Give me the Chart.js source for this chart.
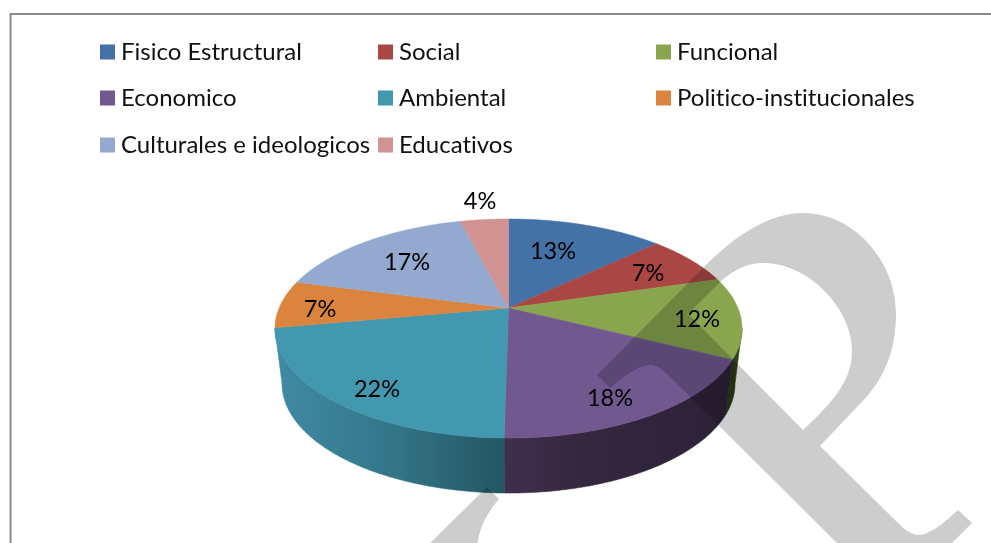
<!DOCTYPE html>
<html><head><meta charset="utf-8">
<script src="https://cdn.jsdelivr.net/npm/chart.js@4"></script>
<style>
html,body{margin:0;padding:0;background:#fff;overflow:hidden}
#wrap{position:relative;width:991px;height:543px}
#c{position:absolute;left:0;top:0;width:991px;height:543px}
</style></head><body>
<div id="wrap"><canvas id="c" width="991" height="543"></canvas></div>
<script>
const categories=["Fisico Estructural","Social","Funcional","Economico","Ambiental","Politico-institucionales","Culturales e ideologicos","Educativos"];
const values=[13,7.4,12,17.85,21.85,7,16.9,4];
const colors=["#4472A6","#AA4643","#89A54E","#71588F","#4198AF","#DB843D","#93A9CF","#D19392"];
const labelSpots=[[553,251],[648,273],[697,319],[610,398],[377,389],[320,309],[407,262],[480,201]];
const FONT='Lato, sans-serif';

// perspective projection of the pie's unit circle
const P={cx:508.5,cy:308,b:229.4,a:105.7,k:0.1872,depth:55,shrink:0.97};
function proj(u,v){const d=1-P.k*v;return [P.cx+P.b*u/d,P.cy+P.a*v/d];}
function ang(a){return [Math.cos(a),Math.sin(a)];}
function polyArc(ctx,a0,a1,bottom,rev){
  const n=Math.max(4,Math.ceil(Math.abs(a1-a0)/0.01));
  for(let i=0;i<=n;i++){
    const t=rev?1-i/n:i/n,[u,v]=ang(a0+(a1-a0)*t);
    let [x,y]=proj(u,v);
    if(bottom){x=P.cx+(x-P.cx)*P.shrink;y+=P.depth;}
    ctx.lineTo(x,y);
  }
}
function wallFill(ctx,i,x0,x1){
  const h=ctx.createLinearGradient(Math.min(x0,x1),0,Math.max(x0,x1),0);
  if(i===2){h.addColorStop(0,'#2a3a14');h.addColorStop(1,'#3a4f1e');}
  else if(i===3){h.addColorStop(0,'#3f2f4c');h.addColorStop(0.35,'#34273f');h.addColorStop(1,'#2c2238');}
  else if(i===4){h.addColorStop(0,'#408ba3');h.addColorStop(0.5,'#347689');h.addColorStop(1,'#245763');}
  else {h.addColorStop(0,colors[i]);h.addColorStop(1,colors[i]);}
  return h;
}
const pie3d={
  id:'pie3d',
  beforeDatasetsDraw(chart){
    const ctx=chart.ctx,arcs=chart.getDatasetMeta(0).data;
    ctx.save();
    const lim=Math.asin(P.k);
    const lo=lim, hi=Math.PI-lim;
    arcs.forEach((arc,i)=>{
      const a0=Math.max(arc.startAngle,lo),a1=Math.min(arc.endAngle,hi);
      if(a1<=a0) return;
      const [x0]=proj(...ang(a0)),[x1]=proj(...ang(a1));
      const f=wallFill(ctx,i,x0,x1);
      ctx.fillStyle=f;ctx.strokeStyle=f;ctx.lineWidth=0.6;
      ctx.beginPath();
      polyArc(ctx,a0,a1,false,false);
      polyArc(ctx,a0,a1,true,true);
      ctx.closePath();ctx.fill();ctx.stroke();
    });
    arcs.forEach((arc,i)=>{
      ctx.fillStyle=arc.options.backgroundColor;
      ctx.strokeStyle=arc.options.backgroundColor;
      ctx.lineWidth=0.5;
      ctx.beginPath();
      ctx.moveTo(P.cx,P.cy);
      polyArc(ctx,arc.startAngle,arc.endAngle,false,false);
      ctx.closePath();ctx.fill();ctx.stroke();
    });
    ctx.restore();
    return false;
  },
  afterDraw(chart){
    const ctx=chart.ctx;
    ctx.save();
    ctx.textRendering='optimizeSpeed';
    ctx.font='23.5px '+FONT;ctx.fillStyle='#000';ctx.textAlign='center';ctx.textBaseline='middle';
    values.forEach((v,i)=>ctx.fillText(Math.round(v)+'%',labelSpots[i][0],labelSpots[i][1]));
    ctx.restore();
    ctx.save();
    ctx.textRendering='optimizeSpeed';
    ctx.font='24px '+FONT;ctx.textBaseline='middle';
    const cols=[100,378,656],rows=[52,98,145];
    categories.forEach((c,i)=>{
      const cx=cols[i%3],cy=rows[Math.floor(i/3)];
      ctx.fillStyle=colors[i];ctx.fillRect(cx,cy-7.5,15,15);
      ctx.fillStyle='#111';ctx.fillText(c,cx+21,cy+0.5);
    });
    ctx.restore();
    ctx.save();ctx.strokeStyle='#8c8c8c';ctx.lineWidth=2;
    ctx.beginPath();ctx.moveTo(991,14);ctx.lineTo(10.5,14);ctx.lineTo(10.5,543);ctx.stroke();ctx.restore();
    ctx.save();
    ctx.globalCompositeOperation='multiply';ctx.fillStyle='#cdcdcd';
    ctx.beginPath();
    ctx.moveTo(597,375);ctx.lineTo(703,268);
    ctx.bezierCurveTo(735,235,770,213,803,213);
    ctx.bezierCurveTo(855,213,896,262,896,313);
    ctx.bezierCurveTo(896,350,885,380,857,407);
    ctx.lineTo(820,446);ctx.lineTo(897,522);
    ctx.bezierCurveTo(905,530,912,535,918,535);
    ctx.bezierCurveTo(930,535,945,522,958,510);
    ctx.lineTo(972,523);ctx.lineTo(945,550);ctx.lineTo(844,550);
    ctx.lineTo(670,377);
    ctx.bezierCurveTo(660,367,655,365,650,365);
    ctx.bezierCurveTo(640,365,625,375,610,388);
    ctx.closePath();
    ctx.moveTo(720,282);
    ctx.bezierCurveTo(735,268,750,263,763,263);
    ctx.bezierCurveTo(810,263,852,310,852,350);
    ctx.bezierCurveTo(852,380,835,400,803,430);
    ctx.lineTo(688,314);
    ctx.closePath();
    ctx.fill('evenodd');
    ctx.beginPath();
    ctx.moveTo(487,487);ctx.lineTo(499,499);ctx.bezierCurveTo(488,512,478,528,477,550);ctx.lineTo(423,550);ctx.closePath();
    ctx.fill();
    ctx.restore();
  }
};
new Chart(document.getElementById('c'),{
  type:'pie',
  data:{labels:categories,datasets:[{data:values,backgroundColor:colors,borderWidth:0}]},
  options:{responsive:false,animation:false,devicePixelRatio:1,
    plugins:{legend:{display:false},tooltip:{enabled:false},title:{display:false}}},
  plugins:[pie3d]
});
</script>
</body></html>
